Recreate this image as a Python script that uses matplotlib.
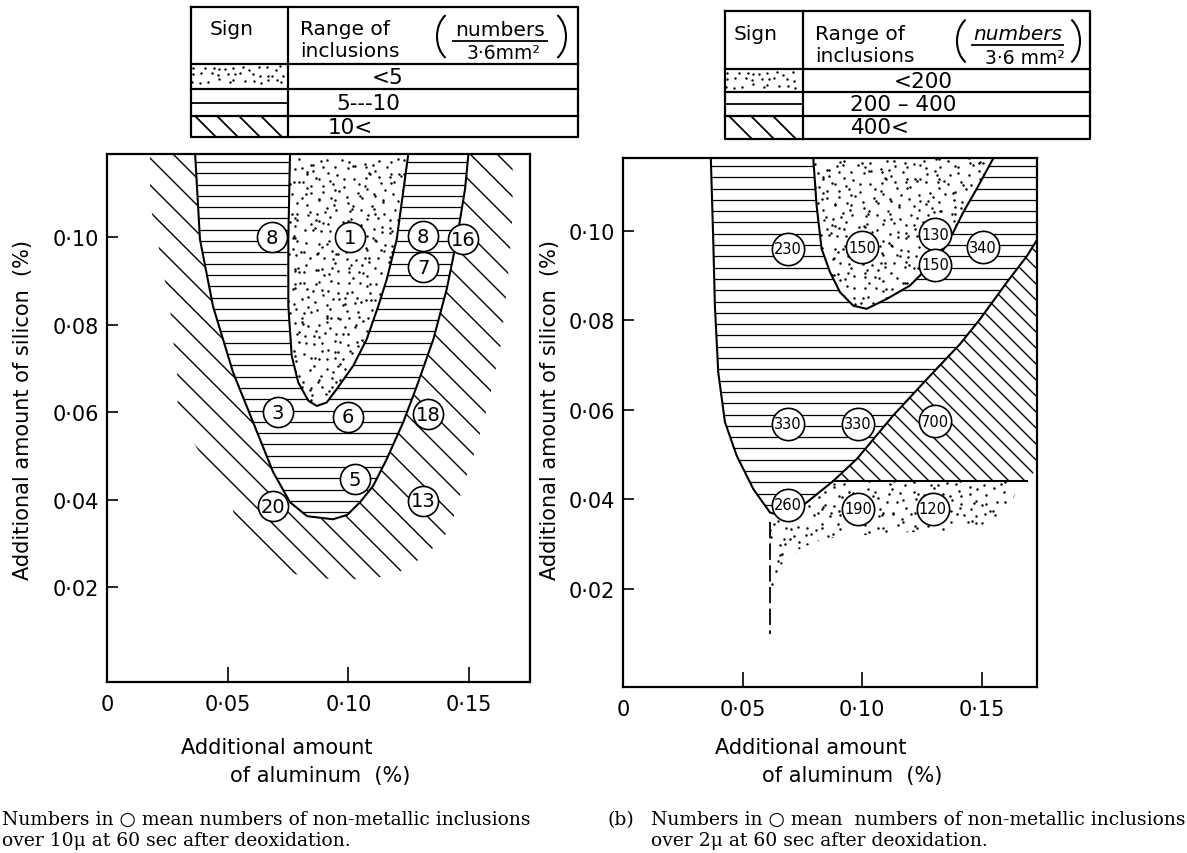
import numpy as np
import matplotlib
matplotlib.use("Agg")
import matplotlib.pyplot as plt
from matplotlib.patches import Polygon, Arc
from matplotlib.collections import LineCollection

plt.rcParams['font.family'] = ['DejaVu Sans']

W, H = 1187, 854

# ---------------- (a) inclusions over 10 micron ----------------
A_XMAX, A_YMIN, A_YMAX = 0.1752, -0.0017, 0.119
# inner U (< 5), left side top -> tip, right side tip -> top
a_in_x = [0.0758, 0.0751, 0.0751, 0.0765, 0.0792, 0.0834, 0.0869,
          0.0910, 0.0952, 0.1020, 0.1076, 0.1124, 0.1159, 0.1200, 0.1248]
a_in_y = [0.1190, 0.0995, 0.0843, 0.0729, 0.0668, 0.0626, 0.0614,
          0.0622, 0.0653, 0.0706, 0.0767, 0.0843, 0.0904, 0.0995, 0.1190]
# outer U (5 - 10)
a_out_x = [0.0365, 0.0385, 0.0439, 0.0522, 0.0605, 0.0688, 0.0758, 0.0829, 0.0936,
           0.0995, 0.1048, 0.1102, 0.1159, 0.1227, 0.1283, 0.1352, 0.1407, 0.1449,
           0.1483, 0.1497]
a_out_y = [0.1190, 0.0995, 0.0842, 0.0691, 0.0577, 0.0463, 0.0394, 0.0362, 0.0355,
           0.0365, 0.0394, 0.0431, 0.0493, 0.0577, 0.0659, 0.0767, 0.0881, 0.0995,
           0.1110, 0.1190]
# outer edge of the 10< band
a_band_x = [0.0178, 0.0178, 0.0207, 0.0232, 0.0260, 0.0269, 0.0290, 0.0294, 0.0510,
            0.0551, 0.0660, 0.0830, 0.0936, 0.1060, 0.1160, 0.1240, 0.1310, 0.1370,
            0.1420, 0.1450, 0.1475, 0.1530, 0.1580, 0.1630, 0.1660, 0.1680, 0.1680]
a_band_y = [0.1190, 0.1075, 0.1000, 0.0920, 0.0850, 0.0783, 0.0703, 0.0584, 0.0401,
            0.0310, 0.0246, 0.0223, 0.0218, 0.0218, 0.0225, 0.0241, 0.0271, 0.0298,
            0.0333, 0.0385, 0.0431, 0.0520, 0.0620, 0.0750, 0.0900, 0.1050, 0.1190]
a_pts_x = [0.0684, 0.1007, 0.1310, 0.1475, 0.1310, 0.0708, 0.0998, 0.1330, 0.1027, 0.0688, 0.1310]
a_pts_y = [0.1000, 0.1000, 0.1002, 0.0995, 0.0931, 0.0600, 0.0589, 0.0595, 0.0447, 0.0385, 0.0397]
a_pts_lab = ['8', '1', '8', '16', '7', '3', '6', '18', '5', '20', '13']

# ---------------- (b) inclusions over 2 micron ----------------
B_XMAX, B_YMIN, B_YMAX = 0.173, -0.0019, 0.1163
b_left_x = [0.0367, 0.0377, 0.0384, 0.0398, 0.0426, 0.0475, 0.0545, 0.0614, 0.0656]
b_left_y = [0.1163, 0.0982, 0.0833, 0.0684, 0.0573, 0.0498, 0.0423, 0.0371, 0.0364]
b_diag_x = [0.0656, 0.0710, 0.0769, 0.0878, 0.0978, 0.1128, 0.1270, 0.1408, 0.1492,
            0.1605, 0.1688, 0.1730]
b_diag_y = [0.0364, 0.0372, 0.0394, 0.0441, 0.0491, 0.0587, 0.0669, 0.0747, 0.0803,
            0.0886, 0.0944, 0.0980]
b_top_x = [0.0795, 0.0809, 0.0830, 0.0865, 0.0907, 0.0962, 0.1018,
           0.1102, 0.1199, 0.1255, 0.1325, 0.1380, 0.1422, 0.1478, 0.1548]
b_top_y = [0.1163, 0.1057, 0.0960, 0.0908, 0.0863, 0.0833, 0.0826,
           0.0848, 0.0878, 0.0908, 0.0945, 0.0997, 0.1042, 0.1094, 0.1163]
b_shelf_y = 0.0442
b_shelf_x = [0.0878, 0.1690]
b_low_x = [0.1690, 0.1660, 0.1630, 0.1547, 0.1380, 0.1186, 0.0977, 0.0836, 0.0740,
           0.0656, 0.0627, 0.0615]
b_low_y = [0.0442, 0.0439, 0.0401, 0.0350, 0.0327, 0.0327, 0.0319, 0.0312, 0.0290,
           0.0252, 0.0200, 0.0160]
b_dash_x = 0.0615
b_dash_y = [0.0350, 0.0100]
b_pts_x = [0.0690, 0.0999, 0.1304, 0.1304, 0.1504, 0.0690, 0.0982, 0.1304, 0.0690, 0.0982, 0.1295]
b_pts_y = [0.0960, 0.0964, 0.0993, 0.0924, 0.0964, 0.0569, 0.0569, 0.0575, 0.0388, 0.0379, 0.0379]
b_pts_lab = ['230', '150', '130', '150', '340', '330', '330', '700', '260', '190', '120']

x_ticks = [0, 0.05, 0.10, 0.15]
x_tick_lab = ['0', '0·05', '0·10', '0·15']
y_ticks = [0.02, 0.04, 0.06, 0.08, 0.10]
y_tick_lab = ['0·02', '0·04', '0·06', '0·08', '0·10']

a_ranges = ['<5', '5---10', '10<']
b_ranges = ['<200', '200 – 400', '400<']

fig = plt.figure(figsize=(W / 100, H / 100), dpi=100)


def px_axes(l, t, r, b):
    return fig.add_axes([l / W, 1 - b / H, (r - l) / W, (b - t) / H])


def region(ax, xs, ys, face='none', z=1):
    p = Polygon(np.column_stack([xs, ys]), closed=True, facecolor=face,
                edgecolor='none', zorder=z)
    ax.add_patch(p)
    return p


def size_px(ax):
    bb = ax.get_position()
    return bb.width * W, bb.height * H


def horiz_hatch(ax, clip, step, z=2):
    w, h = size_px(ax)
    ys = 1 - np.arange(step * 0.7, h, step) / h
    lc = LineCollection([[(0, y), (1, y)] for y in ys], colors='k',
                        linewidths=0.9, transform=ax.transAxes, zorder=z)
    lc.set_clip_path(clip)
    ax.add_collection(lc, autolim=False)


def diag_hatch(ax, clip, step, z=1):
    w, h = size_px(ax)
    segs = [[(0, c / h), ((w + h) / w, (c - w - h) / h)] for c in np.arange(0, w + h, step)]
    lc = LineCollection(segs, colors='k', linewidths=1.0, transform=ax.transAxes, zorder=z)
    lc.set_clip_path(clip)
    ax.add_collection(lc, autolim=False)


def hash01(i, j, k):
    v = np.sin(i * 12.9898 + j * 78.233 + k * 37.719) * 43758.5453
    return v - np.floor(v)


def stipple(ax, clip, step, z=3):
    # irregular dot texture on a jittered grid
    w, h = size_px(ax)
    xs, ys = [], []
    for j, y in enumerate(np.arange(0, h, step)):
        for i, x in enumerate(np.arange(0, w, step)):
            xs.append((x + (hash01(i, j, 1) - 0.5) * step * 1.1) / w)
            ys.append((y + (hash01(i, j, 2) - 0.5) * step * 1.1) / h)
    sc = ax.scatter(xs, ys, s=3.2, c='k', linewidths=0, transform=ax.transAxes, zorder=z)
    sc.set_clip_path(clip)


def setup(ax, xmax, ymin, ymax):
    ax.set_xlim(0, xmax)
    ax.set_ylim(ymin, ymax)
    ax.set_xticks(x_ticks)
    ax.set_xticklabels(x_tick_lab)
    ax.set_yticks(y_ticks)
    ax.set_yticklabels(y_tick_lab)
    ax.tick_params(direction='in', width=1.2, labelsize=15)
    ax.tick_params(axis='x', length=11, pad=9)
    ax.tick_params(axis='y', length=8, pad=6)
    for s in ax.spines.values():
        s.set_linewidth(1.6)
    ax.set_ylabel('Additional amount of silicon  (%)', fontsize=15)


def circles(ax, xs, ys, labs, size, fs):
    ax.scatter(xs, ys, s=size, facecolor='white', edgecolor='k', linewidths=1.2, zorder=5)
    for x, y, t in zip(xs, ys, labs):
        ax.text(x, y, t, ha='center', va='center', fontsize=fs, zorder=6)


# ---------- panel (a) ----------
axA = px_axes(107, 155, 530, 683)
setup(axA, A_XMAX, A_YMIN, A_YMAX)
axA.yaxis.set_label_coords(-0.175, 0.517)
band = region(axA, a_band_x, a_band_y)
diag_hatch(axA, band, 27)
outer = region(axA, a_out_x, a_out_y, face='white', z=1.5)
horiz_hatch(axA, outer, 11.3)
inner = region(axA, a_in_x, a_in_y, face='white', z=2.5)
stipple(axA, inner, 8)
axA.plot(a_out_x, a_out_y, color='k', lw=1.5, zorder=4)
axA.plot(a_in_x, a_in_y, color='k', lw=1.5, zorder=4)
circles(axA, a_pts_x, a_pts_y, a_pts_lab, 470, 14)

# ---------- panel (b) ----------
axB = px_axes(623, 159, 1037, 688)
setup(axB, B_XMAX, B_YMIN, B_YMAX)
axB.yaxis.set_label_coords(-0.152, 0.525)
hx = b_left_x + b_diag_x[1:] + [B_XMAX, B_XMAX]
hy = b_left_y + b_diag_y[1:] + [b_diag_y[-1], B_YMAX]
hreg = region(axB, hx, hy)
horiz_hatch(axB, hreg, 11.3)
top = region(axB, b_top_x, b_top_y, face='white', z=2.5)
stipple(axB, top, 8)
dx = b_diag_x[3:] + [B_XMAX, B_XMAX, b_shelf_x[1]]
dy = b_diag_y[3:] + [b_diag_y[-1], 0.047, b_shelf_y]
dreg = region(axB, dx, dy)
diag_hatch(axB, dreg, 16)
lx = [b_dash_x] + b_diag_x[:4] + b_low_x + [b_dash_x]
ly = [b_dash_y[0]] + b_diag_y[:4] + b_low_y + [b_dash_y[0]]
low = region(axB, lx, ly)
stipple(axB, low, 8.5)
axB.plot(b_left_x + b_diag_x[1:], b_left_y + b_diag_y[1:], color='k', lw=1.5, zorder=4)
axB.plot(b_top_x, b_top_y, color='k', lw=1.5, zorder=4)
axB.plot(b_shelf_x, [b_shelf_y, b_shelf_y], color='k', lw=1.5, zorder=4)
axB.plot([b_dash_x, b_dash_x], b_dash_y, color='k', lw=1.3, dashes=(9, 3), zorder=4)
circles(axB, b_pts_x, b_pts_y, b_pts_lab, 540, 10.5)

# x labels
for cx1, cx2 in [(277, 320), (811, 852)]:
    fig.text(cx1 / W, 1 - 748 / H, 'Additional amount', ha='center', va='center', fontsize=15)
    fig.text(cx2 / W, 1 - 776 / H, 'of aluminum  (%)', ha='center', va='center', fontsize=15)

# captions
cap = dict(fontsize=13.5, family=['DejaVu Serif', 'DejaVu Sans'], va='center', ha='left')
fig.text(2 / W, 1 - 820 / H, 'Numbers in ○ mean numbers of non-metallic inclusions', **cap)
fig.text(2 / W, 1 - 841 / H, 'over 10μ at 60 sec after deoxidation.', **cap)
fig.text(608 / W, 1 - 820 / H, '(b)', **cap)
fig.text(651 / W, 1 - 820 / H, 'Numbers in ○ mean  numbers of non-metallic inclusions', **cap)
fig.text(651 / W, 1 - 841 / H, 'over 2μ at 60 sec after deoxidation.', **cap)


# ---------- legend tables ----------
def table(l, t, r, b, col, rows, ranges, rng_x, num_x, den_txt, den_x, bar, brk, italic):
    ax = px_axes(l - 6, t - 6, r + 6, b + 6)
    ax.set_xlim(l - 6, r + 6)
    ax.set_ylim(b + 6, t - 6)
    ax.axis('off')
    k = dict(color='k', lw=1.6)
    ax.plot([l, r, r, l, l], [t, t, b, b, t], **k)
    ax.plot([col, col], [t, b], **k)
    for y in rows:
        ax.plot([l, r], [y, y], **k)
    # sign cells
    sx, sy = [], []
    for j, y in enumerate(np.arange(rows[0] + 4, rows[1] - 2, 6.5)):
        for i, x in enumerate(np.arange(l + 4, col - 2, 8)):
            sx.append(x + (hash01(i, j, 3) - 0.5) * 7)
            sy.append(y + (hash01(i, j, 4) - 0.5) * 4)
    ax.scatter(sx, sy, s=3, c='k', linewidths=0)
    ax.plot([l, col], [(rows[1] + rows[2]) / 2] * 2, color='k', lw=1.3)
    hgt = b - rows[2]
    for x0 in np.arange(l + 4, col - hgt + 4, 22):
        ax.plot([x0, x0 + hgt], [rows[2], b], color='k', lw=1.3)
    # header
    hy = (t + rows[0]) / 2
    ax.text((l + col) / 2 - 8, hy - 7, 'Sign', ha='center', va='center', fontsize=14.5)
    ax.text(col + 12, hy - 7, 'Range of', ha='left', va='center', fontsize=14.5)
    ax.text(col + 12, hy + 15, 'inclusions', ha='left', va='center', fontsize=14.5)
    ax.add_patch(Arc((brk[0] + 20, hy + 1), 40, 52, theta1=118, theta2=242, color='k', lw=1.5))
    ax.add_patch(Arc((brk[1] - 20, hy + 1), 40, 52, theta1=-62, theta2=62, color='k', lw=1.5))
    ax.text(num_x, hy - 6, 'numbers', ha='center', va='center', fontsize=14.5,
            style='italic' if italic else 'normal')
    ax.plot(bar, [hy + 5, hy + 5], color='k', lw=1.3)
    ax.text(den_x, hy + 17, den_txt, ha='center', va='center', fontsize=13.5)
    for k2, txt in enumerate(ranges):
        yc = (rows[k2] + (rows[k2 + 1] if k2 + 1 < len(rows) else b)) / 2
        ax.text(rng_x[k2], yc, txt, ha='center', va='center', fontsize=15.5)


table(191, 8, 578, 138, 288, [65, 90, 117], a_ranges, [388, 368, 350],
      500, '3·6mm²', 504, [453, 547], [437, 566], False)
table(725, 12, 1090, 140, 803, [70, 93, 117], b_ranges, [923, 903, 880],
      1018, '3·6 mm²', 1025, [972, 1063], [957, 1080], True)

fig.savefig('out.png', dpi=100)
